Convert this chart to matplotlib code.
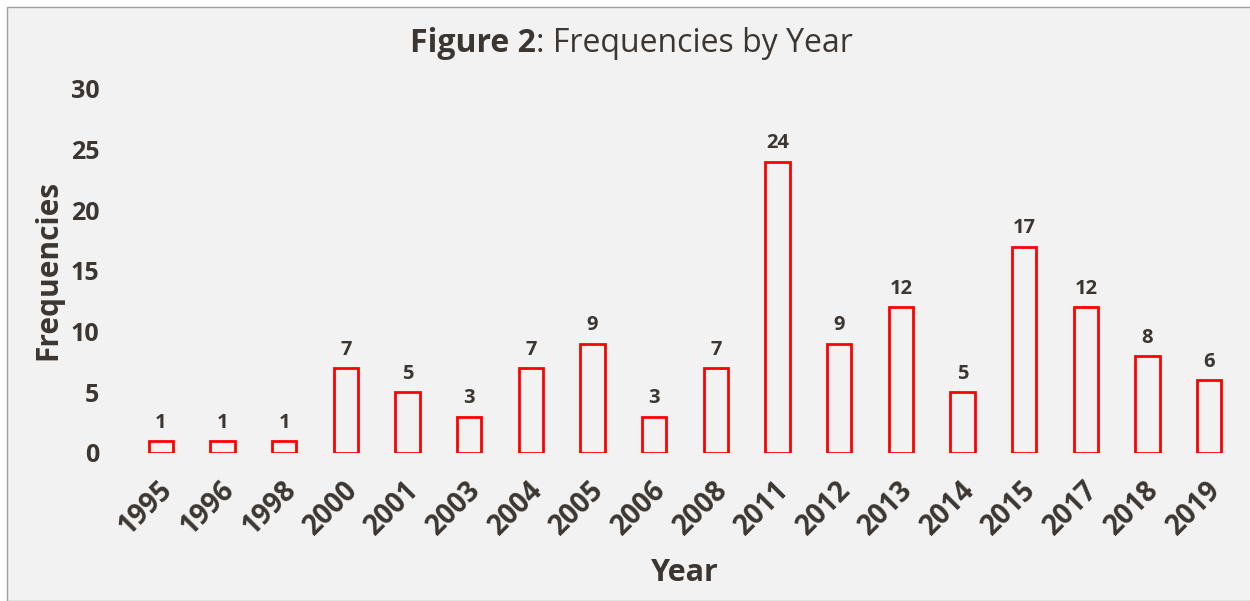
import matplotlib
matplotlib.use("Agg")
import matplotlib.pyplot as plt
from matplotlib.patches import Rectangle
from matplotlib.transforms import ScaledTranslation

years = ["1995", "1996", "1998", "2000", "2001", "2003", "2004", "2005", "2006",
         "2008", "2011", "2012", "2013", "2014", "2015", "2017", "2018", "2019"]
freqs = [1, 1, 1, 7, 5, 3, 7, 9, 3, 7, 24, 9, 12, 5, 17, 12, 8, 6]
yticks = [0, 5, 10, 15, 20, 25, 30]

TXT = "#3B3631"
BG = "#F2F2F2"
plt.rcParams['font.family'] = ['Open Sans', 'DejaVu Sans']

W, H = 1250, 601
fig = plt.figure(figsize=(W / 100, H / 100), dpi=100)
fig.patch.set_facecolor("white")
fig.patches.append(Rectangle((7 / W, 0), 1, 1 - 7 / H, transform=fig.transFigure,
                             facecolor=BG, edgecolor="#A0A0A0", lw=1.0, zorder=-10))

ax = fig.add_axes([130 / W, 1 - 453 / H, (1240 - 130) / W, (453 - 89) / H])
ax.set_facecolor("none")
x = list(range(len(years)))
ax.bar(x, freqs, width=0.39, facecolor="none", edgecolor="#FF0000", linewidth=2.0)
for xi, v in zip(x, freqs):
    ax.annotate(str(v), (xi, v), xytext=(0, 6), textcoords="offset points",
                ha="center", va="bottom", fontsize=14.5, fontweight="bold", color=TXT)

ax.set_xlim(-0.5, len(years) - 0.5)
ax.set_ylim(0, 30)
ax.set_yticks(yticks)
ax.set_yticklabels([str(t) for t in yticks], fontsize=18, fontweight="bold", color=TXT)
ax.set_xticks(x)
ax.set_xticklabels(years, rotation=45, ha="right", va="top", rotation_mode="anchor",
                   fontsize=20, fontweight="bold", color=TXT)
ax.tick_params(axis="both", length=0)
ax.tick_params(axis="x", pad=16)
ax.tick_params(axis="y", pad=22)
off = ScaledTranslation(-2 / 72, 0, fig.dpi_scale_trans)
for lab in ax.get_xticklabels():
    lab.set_transform(lab.get_transform() + off)
for s in ax.spines.values():
    s.set_visible(False)

fig.text(48 / W, 1 - 270 / H, "Frequencies", rotation=90, ha="center", va="center",
         fontsize=21.5, fontweight="bold", color=TXT)
fig.text(685 / W, 1 - 573 / H, "Year", ha="center", va="center",
         fontsize=22, fontweight="bold", color=TXT)

# title with bold part
fig.canvas.draw()
r = fig.canvas.get_renderer()
ty = 1 - 44 / H
t1 = fig.text(0, ty, "Figure 2", ha="left", va="center", fontsize=23, fontweight="bold", color=TXT)
t2 = fig.text(0, ty, ": Frequencies by Year", ha="left", va="center", fontsize=23, color=TXT)
w1 = t1.get_window_extent(r).width
w2 = t2.get_window_extent(r).width
start = 631 - (w1 + w2) / 2
t1.set_x(start / W)
t2.set_x((start + w1) / W)

fig.savefig("out.png", dpi=100, facecolor=fig.get_facecolor())
